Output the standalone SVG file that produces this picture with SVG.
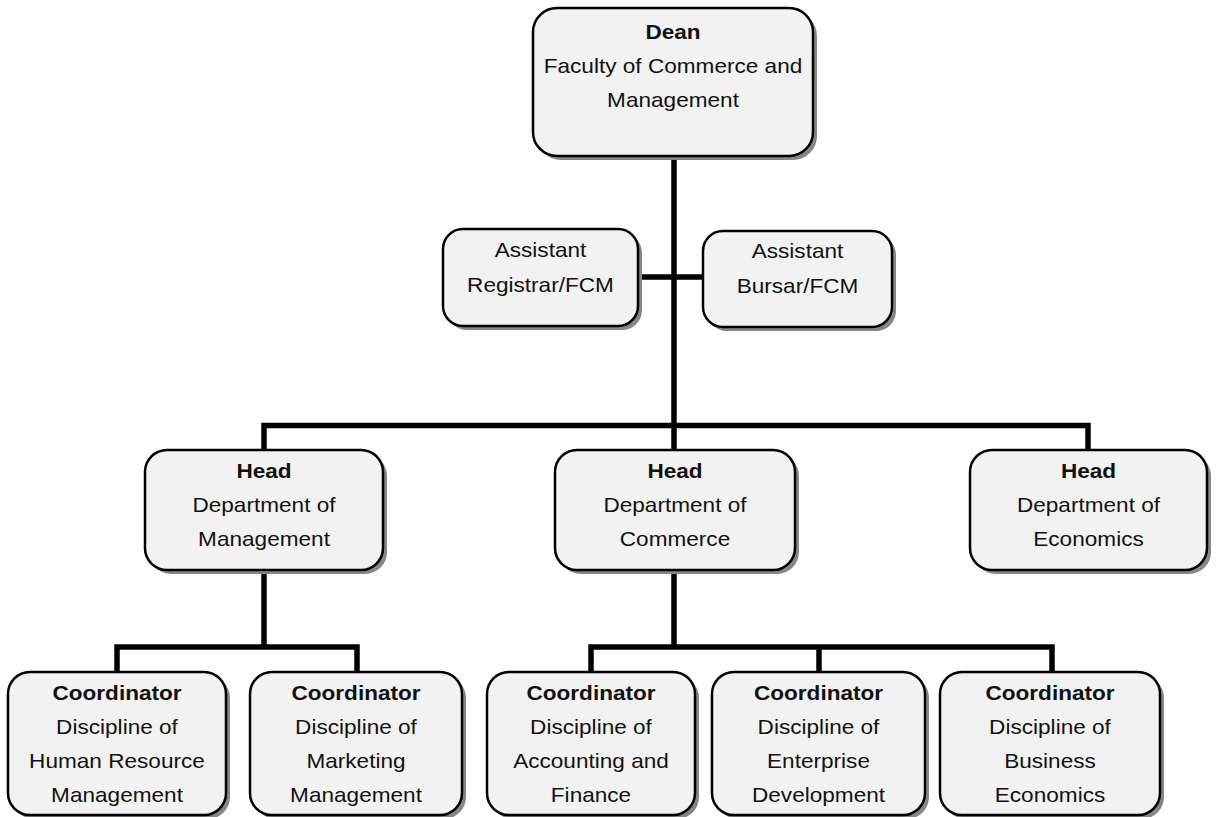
<svg xmlns="http://www.w3.org/2000/svg" width="1218" height="817" viewBox="0 0 1218 817">
<style>
.sh{fill:#868686;}
.bx{fill:#f2f2f2;stroke:#000;stroke-width:2.5;}
.t{font-family:"Liberation Sans",Arial,sans-serif;font-size:20px;fill:#111;text-anchor:middle;}
.b{font-weight:bold;}
.c{fill:none;stroke:#000;stroke-width:5.5;stroke-linejoin:miter;}
</style>
<rect width="1218" height="817" fill="#fff"/>
<g id="connectors">
<path class="c" d="M674 156V450M638 277H703M264 450V425.5H1088V450M264 570V647M117 672V647H357V672M674 570V647M591 672V647H1052V672M819 647V672"/>
</g>
<g id="dean">
<rect class="sh" x="537" y="12" width="280" height="148" rx="24"/>
<rect class="bx" x="533" y="8" width="280" height="148" rx="24"/>
<g transform="translate(673,0) scale(1.13,1)"><text class="t b" x="0" y="39">Dean</text><text class="t" x="0" y="73">Faculty of Commerce and</text><text class="t" x="0" y="107">Management</text></g>
</g>
<g id="registrar">
<rect class="sh" x="447" y="233" width="195" height="97" rx="20"/>
<rect class="bx" x="443" y="229" width="195" height="97" rx="20"/>
<g transform="translate(540.5,0) scale(1.13,1)"><text class="t" x="0" y="257">Assistant</text><text class="t" x="0" y="292">Registrar/FCM</text></g>
</g>
<g id="bursar">
<rect class="sh" x="707" y="235" width="189" height="96" rx="20"/>
<rect class="bx" x="703" y="231" width="189" height="96" rx="20"/>
<g transform="translate(797.5,0) scale(1.13,1)"><text class="t" x="0" y="258">Assistant</text><text class="t" x="0" y="293">Bursar/FCM</text></g>
</g>
<g id="head-management">
<rect class="sh" x="149" y="454" width="238" height="120" rx="22"/>
<rect class="bx" x="145" y="450" width="238" height="120" rx="22"/>
<g transform="translate(264,0) scale(1.13,1)"><text class="t b" x="0" y="478">Head</text><text class="t" x="0" y="512">Department of</text><text class="t" x="0" y="546">Management</text></g>
</g>
<g id="head-commerce">
<rect class="sh" x="559" y="454" width="240" height="120" rx="22"/>
<rect class="bx" x="555" y="450" width="240" height="120" rx="22"/>
<g transform="translate(675,0) scale(1.13,1)"><text class="t b" x="0" y="478">Head</text><text class="t" x="0" y="512">Department of</text><text class="t" x="0" y="546">Commerce</text></g>
</g>
<g id="head-economics">
<rect class="sh" x="974" y="454" width="237" height="120" rx="22"/>
<rect class="bx" x="970" y="450" width="237" height="120" rx="22"/>
<g transform="translate(1088.5,0) scale(1.13,1)"><text class="t b" x="0" y="478">Head</text><text class="t" x="0" y="512">Department of</text><text class="t" x="0" y="546">Economics</text></g>
</g>
<g id="coord-hr">
<rect class="sh" x="12" y="676" width="218" height="143" rx="22"/>
<rect class="bx" x="8" y="672" width="218" height="143" rx="22"/>
<g transform="translate(117,0) scale(1.13,1)"><text class="t b" x="0" y="700">Coordinator</text><text class="t" x="0" y="734">Discipline of</text><text class="t" x="0" y="768">Human Resource</text><text class="t" x="0" y="802">Management</text></g>
</g>
<g id="coord-marketing">
<rect class="sh" x="254" y="676" width="212" height="143" rx="22"/>
<rect class="bx" x="250" y="672" width="212" height="143" rx="22"/>
<g transform="translate(356,0) scale(1.13,1)"><text class="t b" x="0" y="700">Coordinator</text><text class="t" x="0" y="734">Discipline of</text><text class="t" x="0" y="768">Marketing</text><text class="t" x="0" y="802">Management</text></g>
</g>
<g id="coord-accounting">
<rect class="sh" x="491" y="676" width="208" height="143" rx="22"/>
<rect class="bx" x="487" y="672" width="208" height="143" rx="22"/>
<g transform="translate(591,0) scale(1.13,1)"><text class="t b" x="0" y="700">Coordinator</text><text class="t" x="0" y="734">Discipline of</text><text class="t" x="0" y="768">Accounting and</text><text class="t" x="0" y="802">Finance</text></g>
</g>
<g id="coord-enterprise">
<rect class="sh" x="716" y="676" width="213" height="143" rx="22"/>
<rect class="bx" x="712" y="672" width="213" height="143" rx="22"/>
<g transform="translate(818.5,0) scale(1.13,1)"><text class="t b" x="0" y="700">Coordinator</text><text class="t" x="0" y="734">Discipline of</text><text class="t" x="0" y="768">Enterprise</text><text class="t" x="0" y="802">Development</text></g>
</g>
<g id="coord-business">
<rect class="sh" x="944" y="676" width="220" height="143" rx="22"/>
<rect class="bx" x="940" y="672" width="220" height="143" rx="22"/>
<g transform="translate(1050,0) scale(1.13,1)"><text class="t b" x="0" y="700">Coordinator</text><text class="t" x="0" y="734">Discipline of</text><text class="t" x="0" y="768">Business</text><text class="t" x="0" y="802">Economics</text></g>
</g>
</svg>
